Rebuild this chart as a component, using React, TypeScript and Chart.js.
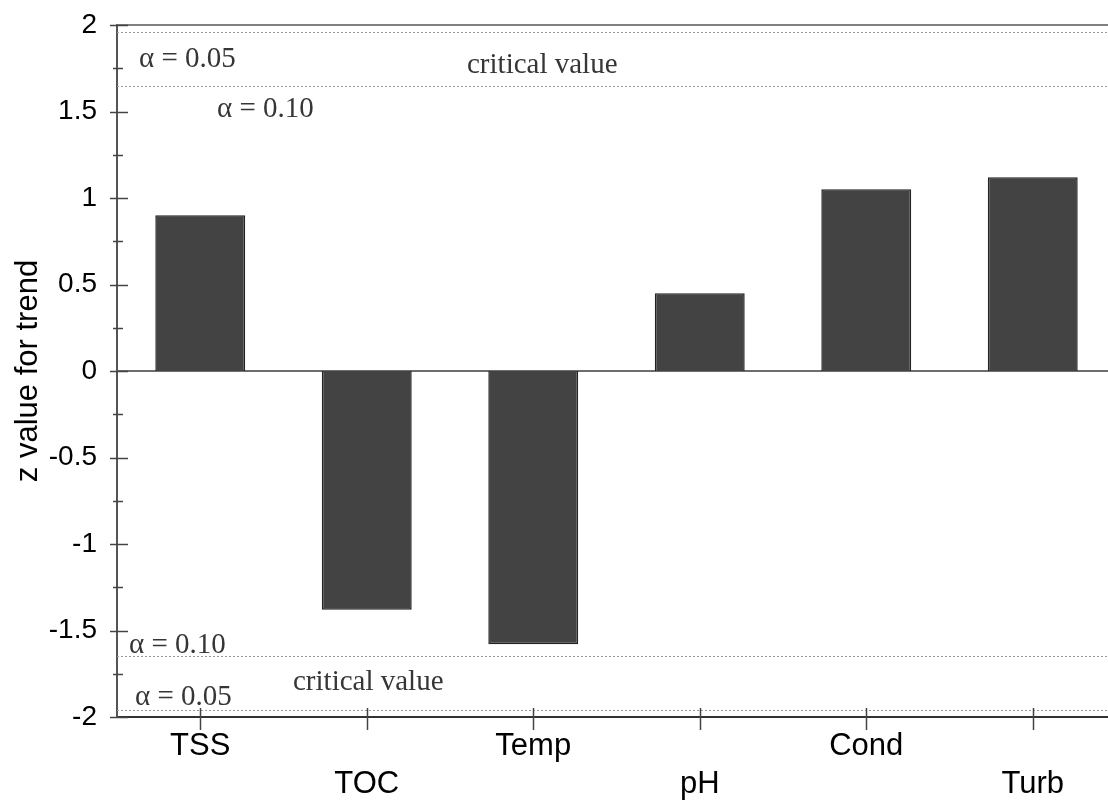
import React, { useEffect, useRef } from "react";
import { Chart, registerables } from "chart.js";

Chart.register(...registerables);

// ---- data ----
const CATEGORIES = ["TSS", "TOC", "Temp", "pH", "Cond", "Turb"];
const Z_VALUES = [0.9, -1.38, -1.58, 0.45, 1.05, 1.12];
const Y_MIN = -2;
const Y_MAX = 2;
const Y_STEP = 0.5;
const Y_MINOR_STEP = 0.25;
const CRITICAL_05 = 1.96;
const CRITICAL_10 = 1.645;
const Y_TITLE = "z value for trend";
const LABEL_ALPHA_05 = "\u03b1 = 0.05";
const LABEL_ALPHA_10 = "\u03b1 = 0.10";
const LABEL_CRITICAL = "critical value";

const SERIF = '"Liberation Serif", "DejaVu Serif", serif';
const SANS = '"Liberation Sans", Arial, sans-serif';

const overlayPlugin = {
  id: "overlay",
  beforeDatasetsDraw(chart: any) {
    const { ctx, chartArea, scales } = chart;
    const { left, right, top } = chartArea;
    const y = scales.y;
    ctx.save();
    // critical value lines
    ctx.strokeStyle = "#9c9c9c";
    ctx.lineWidth = 1;
    ctx.setLineDash([2, 2]);
    for (const v of [CRITICAL_05, CRITICAL_10, -CRITICAL_10, -CRITICAL_05]) {
      const py = Math.round(y.getPixelForValue(v)) + 0.5;
      ctx.beginPath();
      ctx.moveTo(left, py);
      ctx.lineTo(right, py);
      ctx.stroke();
    }
    ctx.setLineDash([]);
    // top frame line
    ctx.strokeStyle = "#808080";
    ctx.lineWidth = 2;
    ctx.beginPath();
    ctx.moveTo(left, top);
    ctx.lineTo(right, top);
    ctx.stroke();
    // zero line
    const y0 = y.getPixelForValue(0);
    ctx.strokeStyle = "#6e6e6e";
    ctx.lineWidth = 2;
    ctx.beginPath();
    ctx.moveTo(left, y0);
    ctx.lineTo(right, y0);
    ctx.stroke();
    ctx.restore();
  },
  afterDatasetsDraw(chart: any) {
    const { ctx, chartArea, scales } = chart;
    const { left, bottom } = chartArea;
    const x = scales.x;
    const y = scales.y;
    ctx.save();
    ctx.strokeStyle = "#444";
    ctx.lineWidth = 1.5;
    // y ticks (major and minor), crossing the axis
    for (let v = Y_MIN; v <= Y_MAX + 1e-9; v += Y_MINOR_STEP) {
      const py = Math.round(y.getPixelForValue(v)) + 0.5;
      const major = Math.abs(v / Y_STEP - Math.round(v / Y_STEP)) < 1e-6;
      ctx.beginPath();
      if (major) {
        ctx.moveTo(left - 7, py);
        ctx.lineTo(left + 11, py);
      } else {
        ctx.moveTo(left - 4, py);
        ctx.lineTo(left + 6, py);
      }
      ctx.stroke();
    }
    // x ticks at categories
    for (let i = 0; i < CATEGORIES.length; i++) {
      const px = Math.round(x.getPixelForValue(i)) + 0.5;
      ctx.beginPath();
      ctx.moveTo(px, bottom - 9);
      ctx.lineTo(px, bottom + 13);
      ctx.stroke();
    }
    // annotation texts
    ctx.fillStyle = "#363636";
    ctx.font = `29px ${SERIF}`;
    ctx.textAlign = "left";
    ctx.textBaseline = "middle";
    ctx.fillText(LABEL_ALPHA_05, left + 22, y.getPixelForValue(1.8));
    ctx.fillText(LABEL_CRITICAL, left + 350, y.getPixelForValue(1.765));
    ctx.fillText(LABEL_ALPHA_10, left + 100, y.getPixelForValue(1.51));
    ctx.fillText(LABEL_ALPHA_10, left + 12, y.getPixelForValue(-1.585));
    ctx.fillText(LABEL_CRITICAL, left + 176, y.getPixelForValue(-1.8));
    ctx.fillText(LABEL_ALPHA_05, left + 18, y.getPixelForValue(-1.885));
    ctx.restore();
  },
};

export default function App() {
  const canvasRef = useRef<HTMLCanvasElement | null>(null);

  useEffect(() => {
    if (!canvasRef.current) return;
    const chart = new Chart(canvasRef.current, {
      type: "bar",
      data: {
        labels: CATEGORIES,
        datasets: [
          {
            data: Z_VALUES,
            backgroundColor: "#434343",
            borderColor: "#222",
            borderWidth: 1.5,
            categoryPercentage: 1,
            barPercentage: 0.54,
          },
        ],
      },
      options: {
        animation: false,
        responsive: true,
        maintainAspectRatio: false,
        layout: { padding: { top: 25, right: 0, bottom: 0, left: 0 } },
        plugins: {
          legend: { display: false },
          tooltip: { enabled: false },
        },
        scales: {
          x: {
            grid: { display: false, drawTicks: false },
            border: { display: true, color: "#333", width: 2 },
            ticks: {
              autoSkip: false,
              maxRotation: 0,
              minRotation: 0,
              padding: 10,
              color: "#000",
              font: { family: SANS, size: 31, lineHeight: 38 / 31 },
              callback: (_v: any, i: number) =>
                i % 2 === 0 ? CATEGORIES[i] : ["", CATEGORIES[i]],
            },
            afterFit: (axis: any) => {
              axis.height = 90;
              axis.paddingLeft = 0;
              axis.paddingRight = 0;
            },
          },
          y: {
            min: Y_MIN,
            max: Y_MAX,
            grid: { display: false, drawTicks: false },
            border: { display: true, color: "#555", width: 2 },
            ticks: {
              stepSize: Y_STEP,
              padding: 20,
              color: "#000",
              font: { family: SANS, size: 28 },
              callback: (v: any) => String(Math.round(Number(v) * 100) / 100),
            },
            title: {
              display: true,
              text: Y_TITLE,
              color: "#000",
              font: { family: SANS, size: 31 },
              padding: { top: 10, bottom: 0 },
            },
            afterFit: (axis: any) => {
              axis.width = 117;
              axis.paddingTop = 0;
              axis.paddingBottom = 0;
            },
          },
        },
      },
      plugins: [overlayPlugin],
    });
    return () => chart.destroy();
  }, []);

  return (
    <div
      style={{
        position: "fixed",
        left: 0,
        top: 0,
        width: 1108,
        height: 807,
        overflow: "hidden",
        background: "#fff",
      }}
    >
      <div style={{ position: "relative", width: 1116, height: 807 }}>
        <canvas ref={canvasRef} />
      </div>
    </div>
  );
}
